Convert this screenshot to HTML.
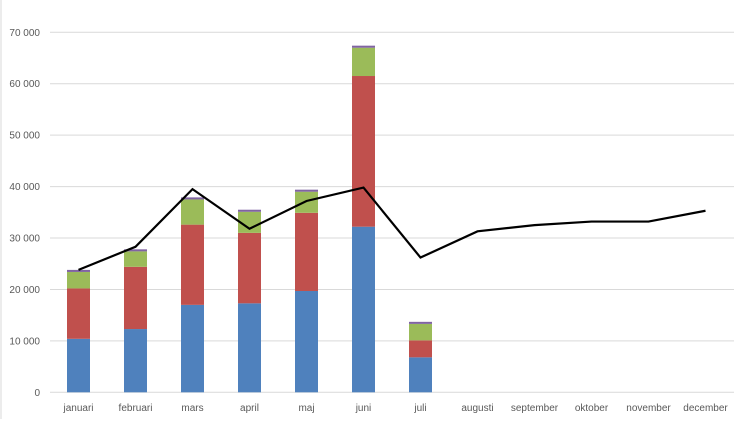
<!DOCTYPE html>
<html><head><meta charset="utf-8"><style>
body{margin:0;background:#fff;}
svg text{font-family:"Liberation Sans",sans-serif;font-size:10px;fill:#595959;}
</style></head><body>
<svg id="chart" width="746" height="419" xmlns="http://www.w3.org/2000/svg">
<rect x="0" y="0" width="746" height="419" fill="#fff"/>
<line x1="1" y1="0" x2="1" y2="419" stroke="#d9d9d9"/>
<g id="grid"></g><g id="bars"></g><g id="line"></g><g id="labels"></g>
</svg>
<script>
const categories=["januari","februari","mars","april","maj","juni","juli","augusti","september","oktober","november","december"];
const blue=[10400,12300,17000,17300,19700,32200,6800];
const red=[9800,12100,15600,13700,15200,29300,3300];
const green=[3200,3000,4900,4100,4100,5500,3200];
const purple=[400,400,400,400,400,400,400];
const lineVals=[23800,28300,39500,31800,37200,39800,26200,31300,32500,33200,33200,35300];
const yTicks=[0,10000,20000,30000,40000,50000,60000,70000];
const NS="http://www.w3.org/2000/svg";
const x0=50,step=57,y0=392.3,yTop=32.3,yMax=70000;
const X=i=>x0+step*(i+0.5);
const Y=v=>y0-(v/yMax)*(y0-yTop);
function mk(t,a,p){const e=document.createElementNS(NS,t);for(const k in a)e.setAttribute(k,a[k]);p.appendChild(e);return e;}
const g=document.getElementById('grid'),b=document.getElementById('bars'),l=document.getElementById('line'),lb=document.getElementById('labels');
yTicks.forEach(v=>{
 const ln=mk('line',{x1:x0,x2:x0+step*12,y1:Y(v),y2:Y(v),stroke:'#d9d9d9','stroke-width':1},g);
 
 
 const t=mk('text',{x:40,y:Y(v)+3.5,'text-anchor':'end'},lb);
 t.textContent=v===0?'0':(v/1000)+' 000';
 
 
});
categories.forEach((c,i)=>{
 const t=mk('text',{x:X(i),y:411,'text-anchor':'middle'},lb);
 t.textContent=c;
 
 
});
const series=[[blue,'#4f81bd'],[red,'#c0504d'],[green,'#9bbb59'],[purple,'#8064a2']];
blue.forEach((_,i)=>{
 let acc=0;
 series.forEach(([arr,col],si)=>{
  const v=arr[i];const r=mk('rect',{x:X(i)-11.5,width:23,y:Y(acc+v),height:Y(acc)-Y(acc+v),fill:col},b);
  
  
  acc+=v;
 });
});
const pts=lineVals.map((v,i)=>X(i)+','+Y(v)).join(' ');
const pl=mk('polyline',{points:pts,fill:'none',stroke:'#000','stroke-width':2.2,'stroke-linejoin':'miter'},l);


</script>
</body></html>
